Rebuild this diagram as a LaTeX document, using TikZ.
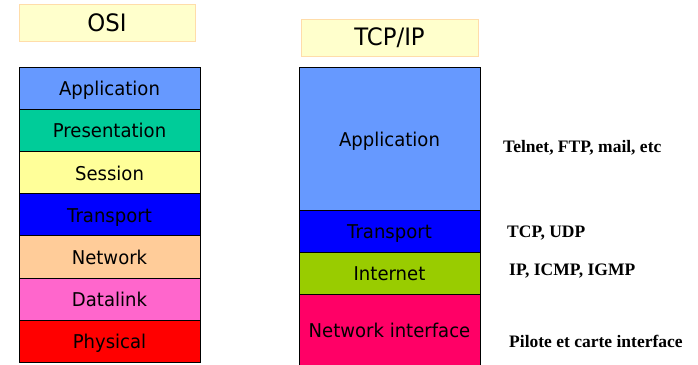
\documentclass[tikz,border=0pt]{standalone}
\usepackage{fontspec}
\setmainfont{DejaVu Sans}[FakeStretch=0.95]
\newfontfamily\notefont{Liberation Serif}
\definecolor{titlefill}{HTML}{FFFFCC}
\definecolor{titleline}{HTML}{FFDDAA}
\definecolor{cApp}{HTML}{6699FF}
\definecolor{cPres}{HTML}{00CC99}
\definecolor{cSess}{HTML}{FFFF99}
\definecolor{cTrans}{HTML}{0000FF}
\definecolor{cNet}{HTML}{FFCC99}
\definecolor{cData}{HTML}{FF66CC}
\definecolor{cPhys}{HTML}{FF0000}
\definecolor{cInet}{HTML}{99CC00}
\definecolor{cNI}{HTML}{FF0066}
\tikzset{
  titlebox/.style={draw=titleline, line width=1pt, fill=titlefill, inner sep=0pt,
    minimum height=37pt, font=\fontsize{24}{28}\selectfont},
  layer/.style={draw=black, line width=0.9pt, inner sep=0pt, minimum width=181pt,
    text height=17pt, text depth=2pt, font=\fontsize{19}{22}\selectfont},
  note/.style={anchor=west, inner sep=0pt, font=\notefont\bfseries\fontsize{17.5}{20}\selectfont}
}
\begin{document}
\begin{tikzpicture}[x=1pt,y=-1pt]
\useasboundingbox (0,0) rectangle (698,364);
% titles
\node[titlebox, minimum width=176pt] (osititle) at (107,23) {OSI};
\node[titlebox, minimum width=177pt] (tcptitle) at (389.5,37.5) {TCP/IP};
% OSI stack
\node[layer, fill=cApp,   minimum height=42.2pt] (oapp)  at (109.5,88.1)  {Application};
\node[layer, fill=cPres,  minimum height=42.2pt] (opres) at (109.5,130.3) {Presentation};
\node[layer, fill=cSess,  minimum height=42.2pt] (osess) at (109.5,172.5) {Session};
\node[layer, fill=cTrans, minimum height=42.2pt] (otran) at (109.5,214.7) {Transport};
\node[layer, fill=cNet,   minimum height=42.2pt] (onet)  at (109.5,256.9) {Network};
\node[layer, fill=cData,  minimum height=42.2pt] (odata) at (109.5,299.1) {Datalink};
\node[layer, fill=cPhys,  minimum height=42.2pt] (ophys) at (109.5,341.3) {Physical};
% TCP/IP stack
\node[layer, fill=cApp,   minimum height=143pt] (tapp)  at (389.5,138.5) {Application};
\node[layer, fill=cTrans, minimum height=42pt]  (ttran) at (389.5,231)   {Transport};
\node[layer, fill=cInet,  minimum height=42pt]  (tinet) at (389.5,273)   {Internet};
\node[layer, fill=cNI,    minimum height=72pt]  (tni)   at (389.5,330)   {Network interface};
% notes
\node[note] (napp)  at (503,148) {Telnet, FTP, mail, etc};
\node[note] (ntran) at (507,233) {TCP, UDP};
\node[note] (ninet) at (509,271) {IP, ICMP, IGMP};
\node[note] (nni)   at (509,341) {Pilote et carte interface};
\end{tikzpicture}
\end{document}
